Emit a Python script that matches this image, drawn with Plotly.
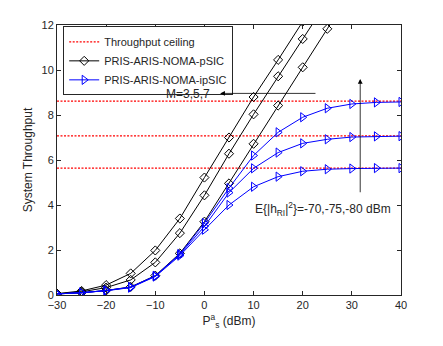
import plotly.graph_objects as go

# transmit power P_s^a (dBm)
power = [-30, -25, -20, -15, -10, -5, 0, 5, 10, 15, 20, 25, 30, 35, 40]

# throughput ceilings for the three SI levels
ceilings = [8.62, 7.07, 5.64]

# pSIC curves (M = 7, 5, 3), they leave the plot at the top
psic_m7 = [0.06, 0.18, 0.44, 0.96, 1.98, 3.4, 5.22, 7.0, 8.8, 10.45, 12.15]
psic_m5 = [0.05, 0.14, 0.33, 0.67, 1.45, 2.75, 4.43, 6.28, 8.03, 9.72, 11.38, 13.05]
psic_m3 = [0.05, 0.1, 0.2, 0.36, 0.86, 1.85, 3.26, 4.96, 6.72, 8.42, 10.12, 11.83, 13.5]

# ipSIC curves for E{|h_RI|^2} = -80, -75, -70 dBm
ipsic_80 = [0.05, 0.1, 0.2, 0.35, 0.85, 1.82, 3.2, 4.75, 6.2, 7.23, 7.9, 8.3, 8.49, 8.56, 8.58]
ipsic_75 = [0.05, 0.1, 0.2, 0.34, 0.84, 1.8, 3.05, 4.55, 5.63, 6.33, 6.74, 6.92, 7.02, 7.05, 7.06]
ipsic_70 = [0.05, 0.1, 0.19, 0.33, 0.82, 1.75, 2.9, 4.0, 4.81, 5.26, 5.5, 5.59, 5.62, 5.64, 5.64]

fig = go.Figure()

for i, c in enumerate(ceilings):
    fig.add_trace(go.Scatter(x=[power[0], power[-1]], y=[c, c], mode='lines',
                             line=dict(color='#ff0000', width=1.2, dash='2px,1.5px'),
                             name='Throughput ceiling', showlegend=(i == 0)))

for i, ys in enumerate([psic_m7, psic_m5, psic_m3]):
    fig.add_trace(go.Scatter(x=power[:len(ys)], y=ys, mode='lines+markers',
                             line=dict(color='black', width=1),
                             marker=dict(symbol='diamond-open', size=7, color='black', line=dict(width=1)),
                             name='PRIS-ARIS-NOMA-pSIC', showlegend=(i == 0)))

for i, ys in enumerate([ipsic_80, ipsic_75, ipsic_70]):
    fig.add_trace(go.Scatter(x=power, y=ys, mode='lines+markers',
                             line=dict(color='#0000ff', width=1),
                             marker=dict(symbol='triangle-right-open', size=8, color='#0000ff', line=dict(width=1)),
                             name='PRIS-ARIS-NOMA-ipSIC', showlegend=(i == 0)))

axis_style = dict(showline=True, linecolor='#262626', linewidth=1, mirror='ticks',
                  ticks='inside', ticklen=4, tickcolor='#262626', showgrid=False,
                  zeroline=False, tickfont=dict(size=11, color='#262626'))

fig.update_xaxes(range=[-30, 40], tickvals=[-30, -20, -10, 0, 10, 20, 30, 40],
                 title=dict(text='P<sup>a</sup><sub>s</sub> (dBm)', font=dict(size=12, color='#262626'), standoff=6),
                 **axis_style)
fig.update_yaxes(range=[0, 12], tickvals=[0, 2, 4, 6, 8, 10, 12],
                 title=dict(text='System Throughput', font=dict(size=12, color='#262626'), standoff=6),
                 **axis_style)

# M arrow (pointing left) and SI arrow (pointing up)
fig.add_annotation(x=3.2, y=8.96, ax=22.9, ay=8.96, xref='x', yref='y', axref='x', ayref='y',
                   showarrow=True, arrowhead=2, arrowsize=1.2, arrowwidth=0.8, arrowcolor='black', text='')
fig.add_annotation(x=1.6, y=8.92, xref='x', yref='y', text='M=3,5,7', showarrow=False,
                   xanchor='right', font=dict(size=12, color='#262626'))
fig.add_annotation(x=31.7, y=9.6, ax=31.7, ay=4.5, xref='x', yref='y', axref='x', ayref='y',
                   showarrow=True, arrowhead=2, arrowsize=1.2, arrowwidth=0.8, arrowcolor='black', text='')
fig.add_annotation(x=9.9, y=3.82, xref='x', yref='y',
                   text='E{|h<sub>RI</sub>|<sup>2</sup>}=-70,-75,-80 dBm', showarrow=False,
                   xanchor='left', font=dict(size=12, color='#262626'))

# page body has an 8px margin, so the figure is shrunk by that much
fig.update_layout(
    width=435, height=338,
    margin=dict(l=49, r=42, t=17, b=51),
    paper_bgcolor='white', plot_bgcolor='white',
    font=dict(family='Liberation Sans, Arial, sans-serif', color='#262626'),
    legend=dict(x=0.018, y=0.995, xanchor='left', yanchor='top', bgcolor='white',
                bordercolor='#262626', borderwidth=1, font=dict(size=11, color='#262626'),
                tracegroupgap=0),
)

fig.write_html("out.html")
